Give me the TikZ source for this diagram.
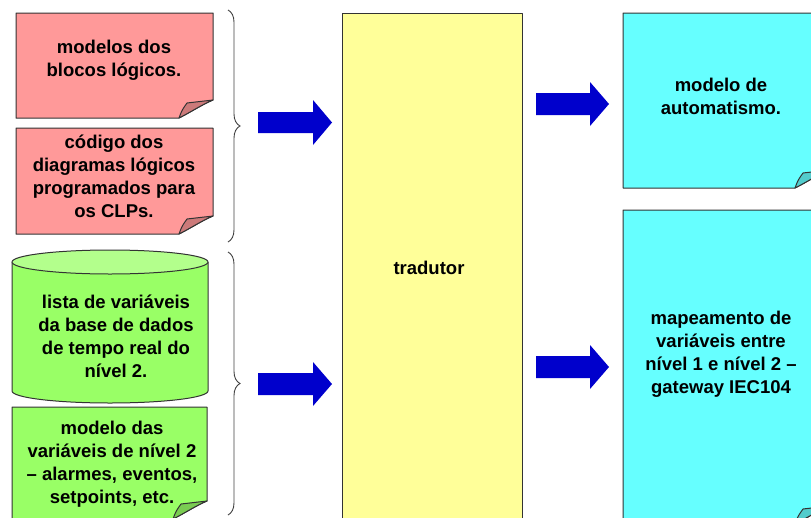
\documentclass[tikz,border=0pt]{standalone}
\usepackage{fontspec}
\setmainfont{Liberation Sans}
\usetikzlibrary{decorations.pathreplacing}
\definecolor{pinkfill}{HTML}{FF9999}
\definecolor{pinkfold}{HTML}{CC7A7A}
\definecolor{greenfill}{HTML}{99FF66}
\definecolor{greentop}{HTML}{B3FF8C}
\definecolor{greenfold}{HTML}{7ACC52}
\definecolor{cyanfill}{HTML}{66FFFF}
\definecolor{cyanfold}{HTML}{52CCCC}
\definecolor{yellowfill}{HTML}{FFFF99}
\definecolor{edgecol}{HTML}{333333}
\definecolor{arrowblue}{HTML}{0000CC}
\definecolor{bracecol}{HTML}{404040}
\newcommand\NoteShape[6]{%
  \filldraw[notebox, fill=#5] (#1,#2) -- (#3,#2) -- (#3,#4-18)
     .. controls (#3-10,#4-14) and (#3-22,#4-6) .. (#3-34,#4) -- (#1,#4) -- cycle;
  \filldraw[notebox, fill=#6] (#3-34,#4) .. controls (#3-31,#4-8) .. (#3-26,#4-15)
     -- (#3,#4-18) .. controls (#3-10,#4-14) and (#3-22,#4-6) .. (#3-34,#4) -- cycle;
}
\begin{document}
\begin{tikzpicture}[x=1pt,y=-1pt,
  notebox/.style={draw=edgecol, line width=1pt, line join=round},
  txt/.style={align=center, inner sep=0pt, text=black,
    font=\bfseries\fontsize{18.5}{23}\selectfont},
  blockarrow/.style={fill=arrowblue, draw=none},
  bracestyle/.style={draw=bracecol, line width=0.9pt, decorate,
    decoration={brace, amplitude=12pt, aspect=0.5}}]
\useasboundingbox (0,0) rectangle (811,517);
\clip (0,0) rectangle (811,517);

% pink notes
\NoteShape{16}{13}{213}{118}{pinkfill}{pinkfold}
\NoteShape{16}{128}{213}{234}{pinkfill}{pinkfold}

% cylinder
\filldraw[notebox, fill=greenfill] (12,262) -- (12,391)
   arc[start angle=180, end angle=0, x radius=98, y radius=12] -- (208,262) -- cycle;
\filldraw[notebox, fill=greentop] (110,262) ellipse [x radius=98, y radius=12];

% green note
\NoteShape{12}{407}{207}{519}{greenfill}{greenfold}

% yellow translator
\filldraw[notebox, fill=yellowfill] (342,13) rectangle (522,530);

% cyan notes
\NoteShape{623}{13}{829}{188}{cyanfill}{cyanfold}
\NoteShape{623}{210}{829}{524}{cyanfill}{cyanfold}

% braces
\coordinate (b1s) at (228,10);
\coordinate (b1e) at (228,242);
\coordinate (b2s) at (228,252);
\coordinate (b2e) at (228,515);
\draw[bracestyle] (b1s) -- (b1e);
\draw[bracestyle] (b2s) -- (b2e);

% block arrows
\fill[blockarrow] (258,112) -- (313,112) -- (313,100) -- (332,122.5) -- (313,145) -- (313,133) -- (258,133) -- cycle;
\fill[blockarrow] (258,373) -- (313,373) -- (313,362) -- (332,384) -- (313,406) -- (313,395) -- (258,395) -- cycle;
\fill[blockarrow] (536,93) -- (590,93) -- (590,82) -- (609,104) -- (590,126) -- (590,115) -- (536,115) -- cycle;
\fill[blockarrow] (536,356) -- (590,356) -- (590,345) -- (609,367) -- (590,389) -- (590,378) -- (536,378) -- cycle;

% texts
\node[txt] (t1) at (114,60) {modelos dos\\blocos lógicos.};
\node[txt] (t2) at (114,176.5) {código dos\\diagramas lógicos\\programados para\\os CLPs.};
\node[txt] (t3) at (116,336.5) {lista de variáveis\\da base de dados\\de tempo real do\\nível 2.};
\node[txt] (t4) at (112,464) {modelo das\\variáveis de nível 2\\– alarmes, eventos,\\setpoints, etc.};
\node[txt] (t5) at (429,268) {tradutor};
\node[txt] (t6) at (721,96) {modelo de\\automatismo.};
\node[txt] (t7) at (721,354) {mapeamento de\\variáveis entre\\nível 1 e nível 2 –\\gateway IEC104};
\end{tikzpicture}
\end{document}
